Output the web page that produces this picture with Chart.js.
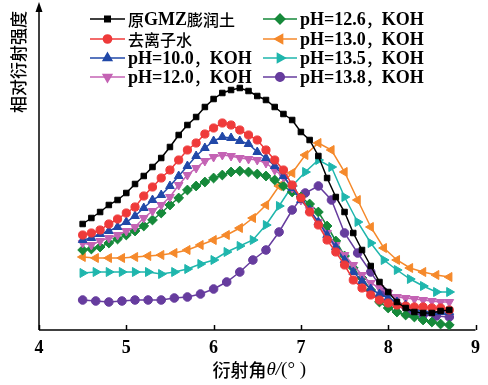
<!DOCTYPE html>
<html>
<head>
<meta charset="utf-8">
<script src="https://cdn.jsdelivr.net/npm/chart.js@4.4.1/dist/chart.umd.min.js"></script>
<style>
  html, body { margin: 0; padding: 0; background: #fff; }
  #wrap { width: 488px; height: 385px; }
</style>
</head>
<body>
<div id="wrap"><canvas id="chart" width="488" height="385"></canvas></div>
<script>
// -- data (intensity in arbitrary units)
const xDense = [4.5, 4.6, 4.7, 4.8, 4.9, 5.0, 5.1, 5.2, 5.3, 5.4, 5.5, 5.6, 5.7, 5.8, 5.9, 6.0, 6.1, 6.2, 6.3, 6.4, 6.5,
  6.6, 6.7, 6.8, 6.9, 7.0, 7.1, 7.2, 7.3, 7.4, 7.5, 7.6, 7.7, 7.8, 7.9, 8.0, 8.1, 8.2, 8.3, 8.4, 8.5, 8.6, 8.7];
const xSparse = [4.5, 4.65, 4.8, 4.95, 5.1, 5.25, 5.4, 5.55, 5.7, 5.85, 6.0, 6.15, 6.3, 6.45, 6.6, 6.75, 6.9, 7.05,
  7.2, 7.35, 7.5, 7.65, 7.8, 7.95, 8.1, 8.25, 8.4, 8.55, 8.7];

const yRaw = [106, 112, 118, 125, 130, 137, 146, 154, 163, 172, 183, 195, 205, 213, 223, 231, 237, 240, 242, 239, 234,
  230, 223, 216, 210, 198, 190, 174, 152, 133, 118, 97, 80, 64, 48, 38, 28, 22, 18, 17, 17, 19, 20];
const yWater = [95, 97, 100, 106, 111, 117, 123, 134, 143, 152, 160, 170, 180, 187, 196, 202, 207, 205, 200, 195, 190,
  180, 170, 160, 145, 132, 118, 105, 90, 78, 65, 50, 42, 35, 30, 27, 25, 24, 23, 23, 22, 22, 20];
const yPh100 = [90, 92, 96, 99, 103, 108, 114, 122, 130, 135, 144, 154, 164, 174, 182, 189, 193, 192, 189, 186, 178,
  172, 164, 154, 142, 130, 120, 108, 95, 83, 70, 58, 49, 41, 36, 32, 28, 25, 21, 19, 18, 18, 18];
const yPh120 = [87, 85, 89, 92, 95, 99, 103, 112, 119, 125, 133, 145, 155, 162, 169, 173, 175, 174, 172, 171, 170,
  167, 160, 153, 142, 130, 120, 108, 97, 85, 75, 65, 55, 47, 42, 37, 33, 32, 31, 30, 29, 28, 28];
const yPh126 = [80, 81, 83, 87, 91, 95, 99, 104, 110, 117, 125, 132, 140, 144, 148, 152, 155, 158, 159, 158, 156,
  154, 150, 144, 138, 133, 126, 118, 104, 89, 74, 62, 52, 40, 28, 22, 18, 15, 13, 10, 8, 6, 5];
const yPh130 = [73, 72, 72, 72, 73, 74, 75, 77, 80, 85, 90, 95, 102, 112, 125, 144, 157, 175, 187, 180, 158, 130, 103,
  82, 70, 62, 58, 55, 53];
const yPh135 = [57, 58, 58, 58, 58, 58, 56, 58, 61, 66, 70, 78, 84, 90, 105, 124, 144, 158, 170, 163, 133, 108, 87,
  70, 60, 51, 44, 38, 38];
const yPh138 = [30, 29, 28, 29, 30, 30, 30, 32, 33, 36, 41, 48, 58, 70, 80, 98, 120, 137, 144, 130, 97, 77, 58, 38,
  25, 17, 15, 14, 13];

const seriesNames = ["原GMZ膨润土", "去离子水", "pH=10.0，KOH", "pH=12.0，KOH",
  "pH=12.6，KOH", "pH=13.0，KOH", "pH=13.5，KOH", "pH=13.8，KOH"];
const xTicks = [4, 5, 6, 7, 8, 9];

// -- styles
const LATIN = "'Liberation Serif', 'Times New Roman', serif";
const CJK = "'Noto Sans CJK SC', sans-serif";
const styles = [
  { color: "#000000", point: "rect", radius: 3.9, rot: 0 },
  { color: "#ef3a3a", point: "circle", radius: 4.1, rot: 0 },
  { color: "#2148a8", point: "triangle", radius: 5.0, rot: 0 },
  { color: "#c463b4", point: "triangle", radius: 5.0, rot: 180 },
  { color: "#16893a", point: "rectRot", radius: 4.9, rot: 0 },
  { color: "#f5892b", point: "triangle", radius: 5.2, rot: 270 },
  { color: "#1fb6ad", point: "triangle", radius: 5.2, rot: 90 },
  { color: "#663c9e", point: "circle", radius: 4.3, rot: 0 },
];
const seriesX = [xDense, xDense, xDense, xDense, xDense, xSparse, xSparse, xSparse];
const seriesY = [yRaw, yWater, yPh100, yPh120, yPh126, yPh130, yPh135, yPh138];

function pts(xs, ys) {
  return xs.map((x, i) => ({ x: x, y: ys[i] }));
}

function drawMixed(ctx, text, x, y, latinFont, cjkFont) {
  let cx = x;
  for (const ch of text) {
    const isCjk = /[\u2e80-\u9fff\uff00-\uffef]/.test(ch);
    ctx.font = isCjk ? cjkFont : latinFont;
    ctx.fillText(ch, cx, y);
    cx += ctx.measureText(ch).width;
  }
  return cx;
}

// -- axes, titles and legend drawn by hand
const decor = {
  id: "decor",
  beforeDatasetsDraw(chart) {
    const ctx = chart.ctx;
    const a = chart.chartArea;
    const xs = chart.scales.x;
    ctx.save();
    ctx.strokeStyle = "#000";
    ctx.fillStyle = "#000";
    ctx.lineWidth = 1.5;
    // x axis
    ctx.beginPath();
    ctx.moveTo(a.left, a.bottom);
    ctx.lineTo(a.right, a.bottom);
    ctx.stroke();
    // inward ticks
    xTicks.forEach((t) => {
      const px = Math.round(xs.getPixelForValue(t)) + 0.5;
      ctx.beginPath();
      ctx.moveTo(px, a.bottom);
      ctx.lineTo(px, a.bottom - 5);
      ctx.stroke();
    });
    // y axis with arrow
    ctx.beginPath();
    ctx.moveTo(a.left, a.bottom);
    ctx.lineTo(a.left, 6);
    ctx.stroke();
    ctx.beginPath();
    ctx.moveTo(a.left, 2);
    ctx.lineTo(a.left - 3.5, 12);
    ctx.lineTo(a.left + 3.5, 12);
    ctx.closePath();
    ctx.fill();
    ctx.restore();
  },
  afterDraw(chart) {
    const ctx = chart.ctx;
    ctx.save();
    ctx.fillStyle = "#000";
    ctx.textBaseline = "middle";
    // x title
    const parts = [
      ["衍射角", "500 18px " + CJK],
      ["θ/", "italic 19px " + LATIN],
      ["(° )", "19px " + LATIN],
    ];
    let w = 0;
    parts.forEach((p) => { ctx.font = p[1]; w += ctx.measureText(p[0]).width; });
    let cx = (chart.chartArea.left + chart.chartArea.right) / 2 - w / 2 + 2;
    parts.forEach((p) => {
      ctx.font = p[1];
      ctx.fillText(p[0], cx, 370);
      cx += ctx.measureText(p[0]).width;
    });
    // y title
    ctx.save();
    ctx.translate(19, 62);
    ctx.rotate(-Math.PI / 2);
    ctx.textAlign = "center";
    ctx.font = "500 17px " + CJK;
    ctx.fillText("相对衍射强度", 0, 0);
    ctx.restore();
    // legend, two columns
    const cols = [{ x0: 90, x1: 125, tx: 128 }, { x0: 263, x1: 297, tx: 300 }];
    const rows = [19, 39, 58, 77];
    chart.data.datasets.forEach((ds, i) => {
      const col = cols[Math.floor(i / 4)];
      const y = rows[i % 4];
      const st = styles[i];
      ctx.strokeStyle = st.color;
      ctx.lineWidth = 1.5;
      ctx.beginPath();
      ctx.moveTo(col.x0, y);
      ctx.lineTo(col.x1, y);
      ctx.stroke();
      Chart.helpers.drawPoint(ctx, {
        pointStyle: st.point,
        radius: st.radius,
        rotation: st.rot,
        borderWidth: 1,
      }, (col.x0 + col.x1) / 2, y);
      ctx.fillStyle = st.color;
      ctx.fill();
      ctx.fillStyle = "#000";
      drawMixed(ctx, ds.label, col.tx, y + 1, "bold 18px " + LATIN, "500 16px " + CJK);
    });
    ctx.restore();
  },
};

const datasets = seriesNames.map((name, i) => ({
  label: name,
  data: pts(seriesX[i], seriesY[i]),
  borderColor: styles[i].color,
  backgroundColor: styles[i].color,
  borderWidth: 1.5,
  pointStyle: styles[i].point,
  pointRadius: styles[i].radius,
  pointRotation: styles[i].rot,
  pointBorderWidth: 1,
  tension: 0,
}));

new Chart(document.getElementById("chart").getContext("2d"), {
  type: "line",
  data: { datasets: datasets },
  options: {
    responsive: false,
    animation: false,
    devicePixelRatio: 1,
    layout: { padding: { left: 39, right: 8, top: 8, bottom: 0 } },
    plugins: { legend: { display: false }, tooltip: { enabled: false } },
    scales: {
      x: {
        type: "linear",
        min: 4,
        max: 9,
        grid: { display: false, drawTicks: false },
        border: { display: false },
        ticks: {
          stepSize: 1,
          padding: 8,
          color: "#000",
          font: { family: LATIN, size: 18, weight: "bold" },
        },
        afterFit: (s) => { s.height = 55; },
      },
      y: {
        display: false,
        min: 0,
        max: 322,
      },
    },
  },
  plugins: [decor],
});
</script>
</body>
</html>
